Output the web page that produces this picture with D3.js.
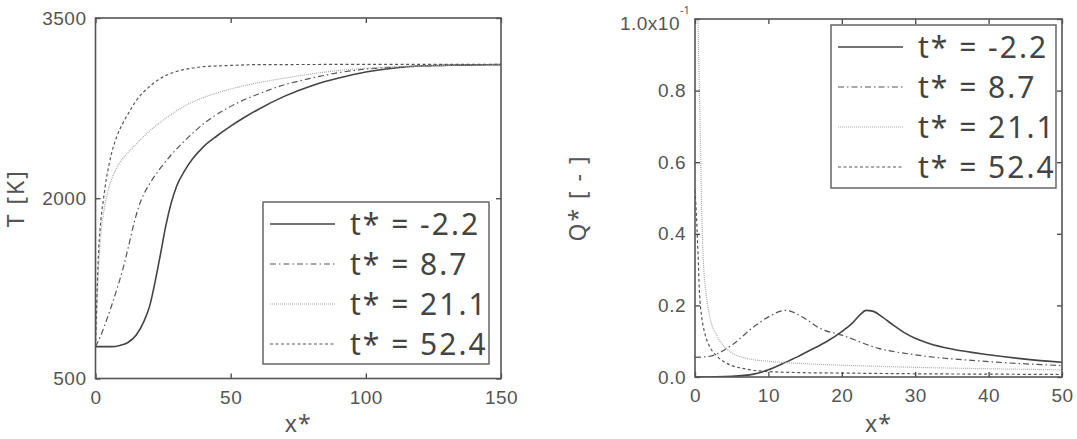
<!DOCTYPE html>
<html>
<head>
<meta charset="utf-8">
<script src="https://cdn.jsdelivr.net/npm/d3@7"></script>
<style>
  body { margin: 0; background: #fff; }
  svg { display: block; font-family: "Noto Sans", sans-serif; }
</style>
</head>
<body>
<div id="chart"></div>
<script>
// Legend labels (same for both panels)
const seriesLabels = ["t* = -2.2", "t* = 8.7", "t* = 21.1", "t* = 52.4"];

// Left panel: temperature T [K] vs x*
const tempMinus22 = [[0,765],[6,765],[9,775],[12,800],[15,860],[18,980],[20,1100],[22,1300],[24,1530],[26,1770],[28,1960],[30,2100],[33,2230],[36,2330],[40,2430],[45,2520],[50,2600],[55,2672],[60,2737],[70,2850],[80,2937],[90,3000],[100,3050],[110,3082],[120,3100],[135,3108],[150,3112]];
const temp87 = [[0,765],[2,860],[4,980],[6,1110],[8,1250],[10,1400],[12,1580],[14,1770],[16,1930],[18,2040],[20,2120],[24,2250],[28,2360],[34,2500],[40,2620],[47,2727],[55,2820],[60,2865],[70,2945],[80,3000],[90,3045],[100,3075],[118,3097],[135,3108],[150,3112]];
const temp211 = [[0,765],[0.3,950],[0.7,1200],[1.2,1450],[2,1700],[3,1880],[4,2000],[5,2090],[6,2160],[8,2260],[10,2330],[12,2380],[15,2450],[20,2560],[25,2650],[34,2780],[47,2890],[60,2960],[70,3000],[80,3035],[92,3068],[105,3088],[118,3100],[135,3108],[150,3112]];
const temp524 = [[0,765],[0.3,1000],[0.7,1300],[1.2,1580],[2,1820],[3,2000],[4,2160],[5,2280],[6,2380],[8,2520],[10,2620],[12,2700],[15,2810],[20,2930],[25,3010],[30,3055],[35,3080],[40,3095],[50,3105],[60,3112],[150,3115]];
const tempXTicks = [0, 50, 100, 150];
const tempYTicks = [500, 2000, 3500];

// Right panel: heat release Q* [-] vs x*
const heatMinus22 = [[0,0],[5,0.002],[8,0.008],[10,0.02],[12,0.038],[14,0.057],[16,0.078],[18,0.1],[20,0.127],[21.5,0.152],[22.5,0.174],[23.3,0.186],[24.2,0.184],[25.5,0.168],[27,0.145],[28.5,0.124],[30,0.108],[32,0.093],[35,0.078],[40,0.062],[45,0.050],[50,0.041]];
const heat87 = [[0,0.055],[2,0.058],[5,0.089],[8,0.14],[10,0.168],[12.3,0.186],[15,0.163],[17,0.136],[20,0.117],[25,0.080],[30,0.062],[40,0.043],[50,0.032]];
const heat211 = [[0.4,1.0],[0.6,0.8],[0.75,0.65],[0.85,0.53],[1.0,0.4],[1.2,0.3],[1.5,0.235],[2,0.17],[3,0.115],[4,0.085],[5,0.068],[7,0.052],[10,0.044],[15,0.037],[20,0.033],[30,0.027],[40,0.023],[50,0.02]];
const heat524 = [[0,0.52],[0.2,0.45],[0.4,0.35],[0.6,0.24],[0.9,0.17],[1.3,0.125],[2,0.085],[3,0.058],[4,0.042],[5,0.032],[7,0.022],[10,0.015],[15,0.012],[20,0.011],[30,0.009],[40,0.008],[50,0.007]];
const heatXTicks = [0, 10, 20, 30, 40, 50];
const heatYTicks = [0, 0.2, 0.4, 0.6, 0.8, 1.0];

// Line styles per series
const lineStyles = [
  { stroke: "#444", width: 1.6, dash: null },
  { stroke: "#555", width: 1.2, dash: "6,3,1.5,3" },
  { stroke: "#aaa", width: 1.2, dash: "1,1" },
  { stroke: "#555", width: 1.2, dash: "3,2.5" }
];

const textColor = "#555";
const svg = d3.select("#chart").append("svg").attr("width", 1077).attr("height", 439);

// Draw one framed panel
function drawPanel(opts) {
  const { xDomain, yDomain, xRange, yRange, xTicks, yTicks, series, yLabel, legendBox, clipId, yFormat } = opts;
  const x = d3.scaleLinear().domain(xDomain).range(xRange);
  const y = d3.scaleLinear().domain(yDomain).range(yRange);
  const g = svg.append("g");

  svg.append("clipPath").attr("id", clipId)
    .append("rect")
    .attr("x", xRange[0]).attr("y", yRange[1])
    .attr("width", xRange[1] - xRange[0]).attr("height", yRange[0] - yRange[1]);

  // Curves
  const line = d3.line().x((d) => x(d[0])).y((d) => y(d[1])).curve(d3.curveMonotoneX);
  const curves = g.append("g").attr("clip-path", `url(#${clipId})`);
  series.forEach((s, i) => {
    curves.append("path")
      .attr("d", line(s))
      .attr("fill", "none")
      .attr("stroke", lineStyles[i].stroke)
      .attr("stroke-width", lineStyles[i].width)
      .attr("stroke-dasharray", lineStyles[i].dash);
  });

  // Axes with inward ticks on all four sides
  const tickStyle = (sel) => {
    sel.select(".domain").remove();
    sel.selectAll("line").attr("stroke", "#444").attr("stroke-width", 1.3);
    sel.selectAll("text").attr("fill", textColor).style("font-size", "19px").style("letter-spacing", "0.5px");
  };
  g.append("g").attr("transform", `translate(0,${yRange[0]})`)
    .call(d3.axisBottom(x).tickValues(xTicks).tickSizeInner(-5).tickPadding(12).tickFormat(d3.format("d")))
    .call(tickStyle);
  g.append("g").attr("transform", `translate(0,${yRange[1]})`)
    .call(d3.axisTop(x).tickValues(xTicks).tickSizeInner(-5).tickFormat(""))
    .call(tickStyle);
  const yAxis = g.append("g").attr("transform", `translate(${xRange[0]},0)`)
    .call(d3.axisLeft(y).tickValues(yTicks).tickSizeInner(-5).tickPadding(9).tickFormat(yFormat))
    .call(tickStyle);
  g.append("g").attr("transform", `translate(${xRange[1]},0)`)
    .call(d3.axisRight(y).tickValues(yTicks).tickSizeInner(-5).tickFormat(""))
    .call(tickStyle);

  g.append("rect")
    .attr("x", xRange[0]).attr("y", yRange[1])
    .attr("width", xRange[1] - xRange[0]).attr("height", yRange[0] - yRange[1])
    .attr("fill", "none").attr("stroke", "#555").attr("stroke-width", 1.6);

  // Axis titles
  const cx = (xRange[0] + xRange[1]) / 2;
  const cy = (yRange[0] + yRange[1]) / 2;
  g.append("text").attr("x", cx).attr("y", 432)
    .attr("text-anchor", "middle").attr("fill", textColor)
    .style("font-size", "23px").style("letter-spacing", "1px").text("x*");
  g.append("text")
    .attr("transform", `translate(${yLabel.x},${cy}) rotate(-90)`)
    .attr("text-anchor", "middle").attr("fill", textColor)
    .style("font-size", "23px").style("letter-spacing", "2px").text(yLabel.text);

  // Legend
  const lg = g.append("g").attr("transform", `translate(${legendBox.x},${legendBox.y})`);
  lg.append("rect").attr("width", legendBox.w).attr("height", legendBox.h)
    .attr("fill", "#fff").attr("stroke", "#666").attr("stroke-width", 1.5);
  seriesLabels.forEach((label, i) => {
    const ry = 22 + i * 40;
    lg.append("line").attr("x1", 7).attr("x2", 72).attr("y1", ry).attr("y2", ry)
      .attr("stroke", lineStyles[i].stroke)
      .attr("stroke-width", lineStyles[i].width)
      .attr("stroke-dasharray", lineStyles[i].dash);
    lg.append("text").attr("x", 87).attr("y", ry).attr("dy", "0.36em")
      .attr("fill", "#444").style("font-size", "30px").style("letter-spacing", "2px")
      .text(label);
  });

  return { x, y, yAxis };
}

// Left panel
drawPanel({
  xDomain: [0, 150], yDomain: [500, 3500],
  xRange: [95.5, 501], yRange: [378.5, 18],
  xTicks: tempXTicks, yTicks: tempYTicks,
  series: [tempMinus22, temp87, temp211, temp524],
  yLabel: { x: 24, text: "T [K]" },
  legendBox: { x: 263, y: 202, w: 226, h: 162 },
  clipId: "clip-left",
  yFormat: d3.format("d")
});

// Right panel
const right = drawPanel({
  xDomain: [0, 50], yDomain: [0, 1],
  xRange: [695, 1062], yRange: [377, 19],
  xTicks: heatXTicks, yTicks: heatYTicks,
  series: [heatMinus22, heat87, heat211, heat524],
  yLabel: { x: 586, text: "Q* [ - ]" },
  legendBox: { x: 831, y: 25, w: 225, h: 163 },
  clipId: "clip-right",
  yFormat: (d) => (d === 1 ? "1.0x10" : d3.format(".1f")(d))
});

// Top tick label of the right panel: shift left and add the exponent
const topTick = right.yAxis.selectAll(".tick text").filter((d) => d === 1);
topTick.attr("x", -15).attr("dy", "0.55em");
svg.append("text")
  .attr("x", 680).attr("y", right.y(1) - 5)
  .attr("fill", textColor)
  .style("font-size", "11px")
  .text("-1");
</script>
</body>
</html>
